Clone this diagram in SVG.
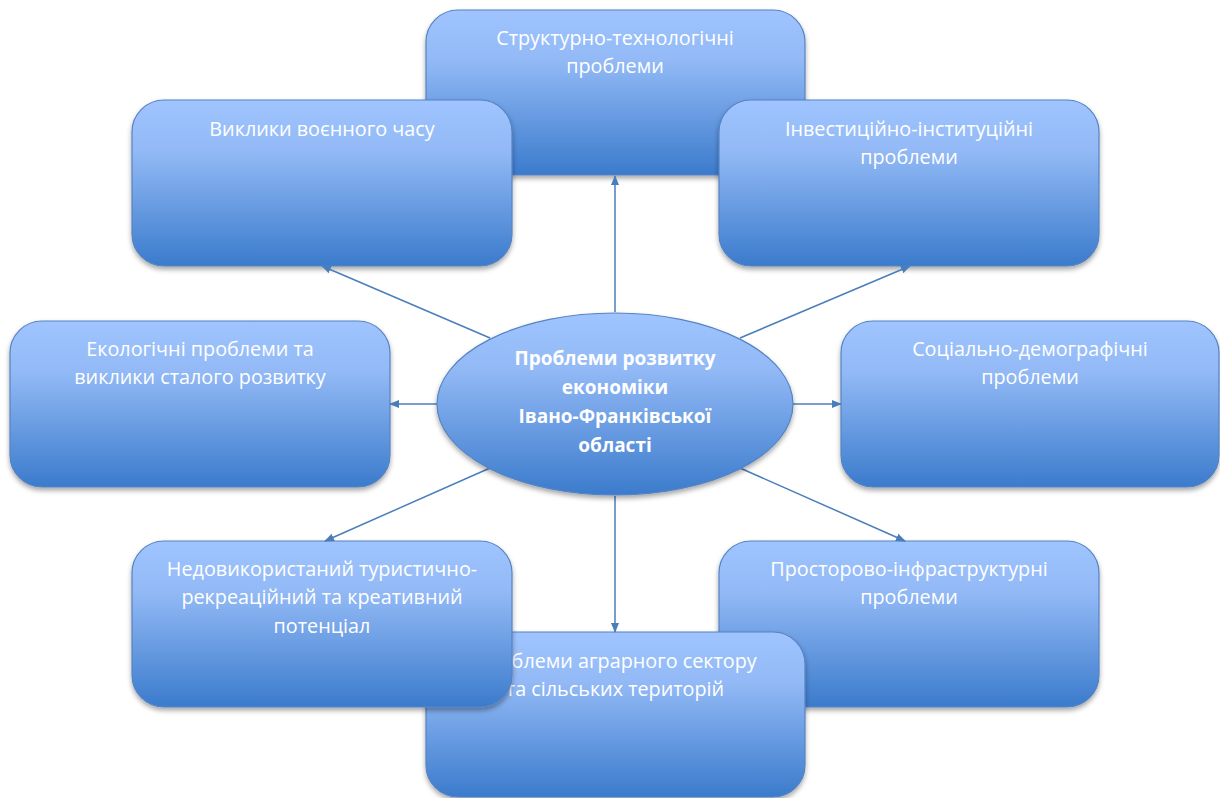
<svg xmlns="http://www.w3.org/2000/svg" width="1220" height="798" viewBox="0 0 1220 798">
<defs>
<linearGradient id="g" x1="0" y1="0" x2="0" y2="1">
<stop offset="0" stop-color="#9fc4ff"/>
<stop offset="0.3" stop-color="#93baf6"/>
<stop offset="1" stop-color="#3b7bcc"/>
</linearGradient>
<filter id="sh" x="-10%" y="-10%" width="120%" height="125%">
<feDropShadow dx="0" dy="3" stdDeviation="2.5" flood-color="#000" flood-opacity="0.35"/>
</filter>
<marker id="ar" markerWidth="10" markerHeight="10" refX="9" refY="5" orient="auto" markerUnits="userSpaceOnUse">
<path d="M0,1 L10,5 L0,9 Z" fill="#4a7ebb"/>
</marker>
</defs>
<style>
.box{fill:url(#g);stroke:#5583c2;stroke-width:1.2;filter:url(#sh)}
.t{font-family:"Open Sans","Liberation Sans",sans-serif;font-size:19.8px;fill:#fff;text-anchor:middle}
.c{font-family:"Open Sans","Liberation Sans",sans-serif;font-size:19px;font-weight:bold;fill:#fff;text-anchor:middle}
.ln{stroke:#4a7ebb;stroke-width:1.5;fill:none;marker-end:url(#ar)}
</style>
<rect width="1220" height="798" fill="#fff"/>
<g id="n-struct">
<rect class="box" x="426" y="10" width="379" height="165" rx="32"/>
<text class="t" x="615" y="45">Структурно-технологічні</text>
<text class="t" x="615" y="73">проблеми</text>
</g>
<g id="n-war">
<rect class="box" x="132" y="100" width="380" height="166" rx="32"/>
<text class="t" x="322" y="136">Виклики воєнного часу</text>
</g>
<g id="n-invest">
<rect class="box" x="719" y="100" width="380" height="166" rx="32"/>
<text class="t" x="909" y="136">Інвестиційно-інституційні</text>
<text class="t" x="909" y="164">проблеми</text>
</g>
<g id="n-eco">
<rect class="box" x="10" y="321" width="380" height="166" rx="32"/>
<text class="t" x="200" y="356">Екологічні проблеми та</text>
<text class="t" x="200" y="384">виклики сталого розвитку</text>
</g>
<g id="n-social">
<rect class="box" x="841" y="321" width="378" height="166" rx="32"/>
<text class="t" x="1030" y="356">Соціально-демографічні</text>
<text class="t" x="1030" y="384">проблеми</text>
</g>
<g id="n-space">
<rect class="box" x="719" y="541" width="380" height="166" rx="32"/>
<text class="t" x="909" y="576">Просторово-інфраструктурні</text>
<text class="t" x="909" y="604">проблеми</text>
</g>
<g id="n-agro">
<rect class="box" x="426" y="632" width="379" height="165" rx="32"/>
<text class="t" x="615" y="668">Проблеми аграрного сектору</text>
<text class="t" x="615" y="696">та сільських територій</text>
</g>
<g id="n-tour">
<rect class="box" x="132" y="541" width="380" height="166" rx="32"/>
<text class="t" x="322" y="576">Недовикористаний туристично-</text>
<text class="t" x="322" y="604">рекреаційний та креативний</text>
<text class="t" x="322" y="633">потенціал</text>
</g>
<g id="connectors">
<line class="ln" x1="615" y1="312" x2="615" y2="176"/>
<line class="ln" x1="490" y1="338" x2="322" y2="266"/>
<line class="ln" x1="740" y1="338" x2="910" y2="266"/>
<line class="ln" x1="437" y1="404" x2="390" y2="404"/>
<line class="ln" x1="793" y1="404" x2="841" y2="404"/>
<line class="ln" x1="490" y1="468" x2="325" y2="541"/>
<line class="ln" x1="740" y1="468" x2="905" y2="541"/>
<line class="ln" x1="615" y1="496" x2="615" y2="632"/>
</g>
<g id="n-center">
<ellipse cx="615" cy="404" rx="178" ry="91" fill="url(#g)" stroke="#5583c2" stroke-width="1.2" filter="url(#sh)"/>
<text class="c" x="615" y="365">Проблеми розвитку</text>
<text class="c" x="615" y="394">економіки</text>
<text class="c" x="615" y="423">Івано-Франківської</text>
<text class="c" x="615" y="452">області</text>
</g>
</svg>
